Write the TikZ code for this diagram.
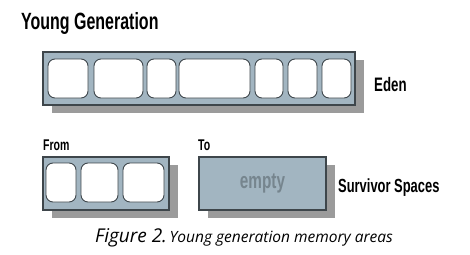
\documentclass[tikz,border=0pt]{standalone}
\usepackage{fontspec}
\newfontfamily\headfont[FakeStretch=0.68]{Liberation Sans}
\newfontfamily\capfont{Open Sans}
\usetikzlibrary{positioning,shadows}
\definecolor{boxblue}{HTML}{A2B5C1}
\definecolor{shadowgray}{HTML}{9B9B9B}
\definecolor{edgegray}{HTML}{3E464B}
\definecolor{emptygray}{HTML}{76858E}

\begin{document}
\begin{tikzpicture}[x=1pt,y=-1pt]
\useasboundingbox (0,0) rectangle (470,254);

% 1. Stile definieren
\tikzset{
  area/.style={
    draw=edgegray, fill=boxblue, line width=1.1pt,
    minimum height=53pt, inner sep=0pt,
    drop shadow={shadow xshift=9pt, shadow yshift=-8pt,
      fill=shadowgray, opacity=1}
  },
  cell/.style={
    draw=edgegray, fill=white, line width=0.9pt,
    rounded corners=7pt, minimum height=39pt, inner sep=0pt
  },
  tag/.style={font=\headfont\bfseries, anchor=base west, inner sep=0pt}
}

% 2. Bereiche
\node [area, minimum width=312pt] (eden) at (199,78.5) {};
\node [area, minimum width=126pt] (from) at (106,183.5) {};
\node [area, minimum width=127pt, font=\headfont\bfseries\fontsize{22.5}{22.5}\selectfont,
  text=emptygray] (to) at (262.5,183.5) {empty};

% 3. Zellen im Eden
\node [cell, minimum width=40pt] (e1) at (68,78.5) {};
\node [cell, minimum width=49pt] (e2) at (118.5,78.5) {};
\node [cell, minimum width=29pt] (e3) at (161.5,78.5) {};
\node [cell, minimum width=71pt] (e4) at (214.5,78.5) {};
\node [cell, minimum width=28pt] (e5) at (269,78.5) {};
\node [cell, minimum width=29pt] (e6) at (302.5,78.5) {};
\node [cell, minimum width=29pt] (e7) at (336.5,78.5) {};

% 4. Zellen im From-Bereich
\node [cell, minimum width=30pt] (f1) at (61,182.5) {};
\node [cell, minimum width=37pt] (f2) at (99.5,182.5) {};
\node [cell, minimum width=41pt] (f3) at (143.5,182.5) {};

% 5. Beschriftungen
\node [tag, font=\headfont\bfseries\fontsize{23.5}{23.5}\selectfont] (title) at (21,30) {Young Generation};
\node [tag, font=\headfont\bfseries\fontsize{19.5}{19.5}\selectfont] (edenlab) at (374,91) {Eden};
\node [tag, font=\headfont\bfseries\fontsize{15.5}{15.5}\selectfont] (fromlab) at (43,150) {From};
\node [tag, font=\headfont\bfseries\fontsize{15.5}{15.5}\selectfont] (tolab) at (198,150) {To};
\node [tag, font=\headfont\bfseries\fontsize{19}{19}\selectfont] (survlab) at (338,192) {Survivor Spaces};
\node [anchor=base west, inner sep=0pt] (caption) at (95,242)
  {\capfont\itshape{\fontsize{19}{19}\selectfont Figure 2.}\ {\fontsize{15.5}{16}\selectfont Young generation memory areas}};

\end{tikzpicture}
\end{document}
